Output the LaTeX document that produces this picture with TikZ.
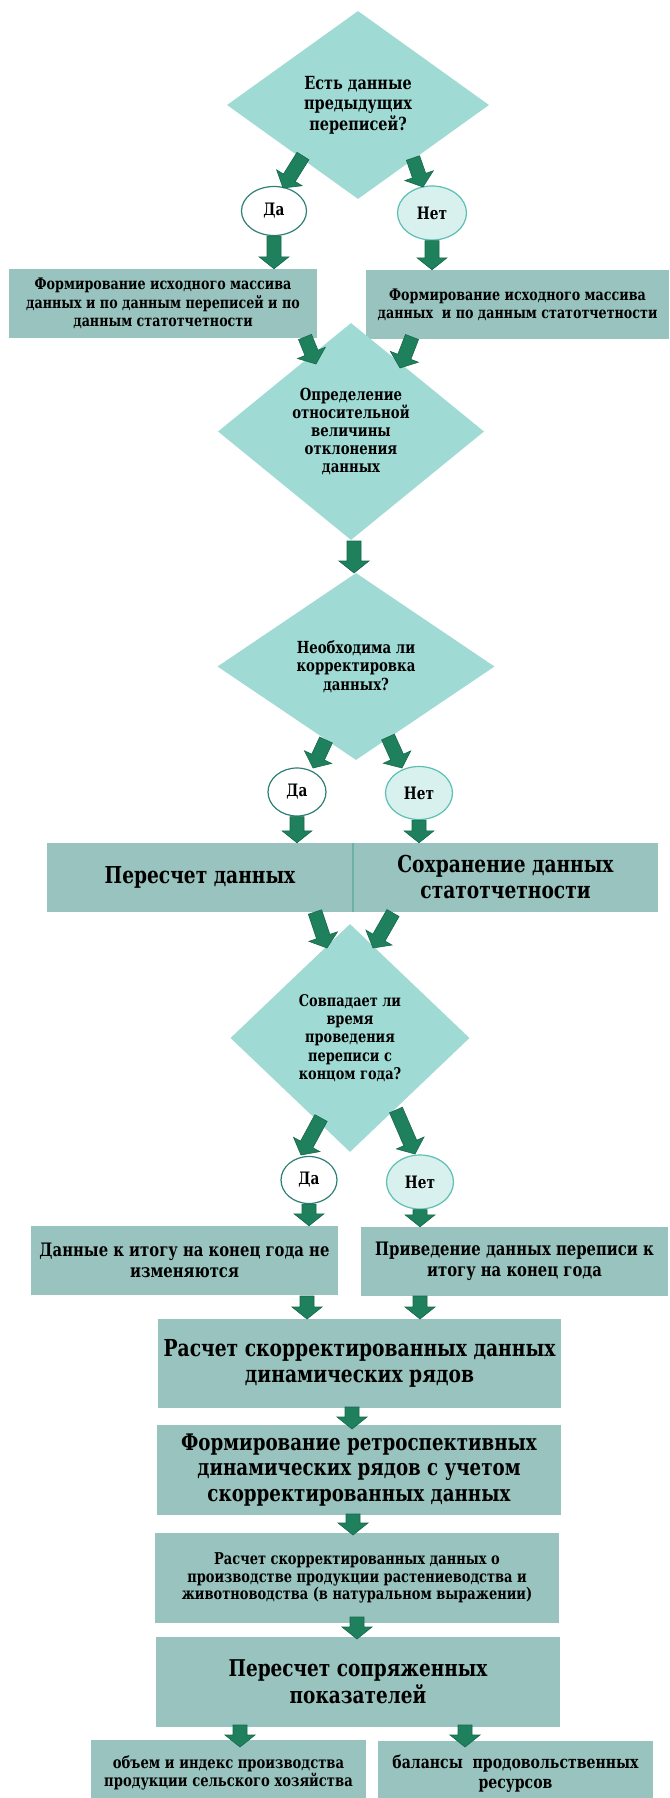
\documentclass[tikz,border=0pt]{standalone}
\usepackage{fontspec}
\setmainfont{DejaVu Serif}[FakeStretch=0.8]
\usetikzlibrary{shapes.geometric,calc}
\definecolor{dfill}{HTML}{A0DAD4}
\definecolor{bfill}{HTML}{98C3BE}
\definecolor{afill}{HTML}{1E805C}
\definecolor{aline}{HTML}{17694B}
\definecolor{yline}{HTML}{2E7F76}
\definecolor{nline}{HTML}{5BBFB4}
\definecolor{nfill}{HTML}{D9F1EE}
\definecolor{divc}{HTML}{6FAFA8}
\newcommand\fsz[2]{\bfseries\fontsize{\fpeval{#1*0.95}}{#2}\selectfont}
\begin{document}
\begin{tikzpicture}[x=1pt,y=-1pt,
  dia/.style={diamond, fill=dfill, inner sep=0pt, align=center},
  box/.style={rectangle, fill=bfill, inner sep=0pt, align=center},
  yes/.style={ellipse, draw=yline, fill=white, line width=1.2pt, inner sep=0pt, font=\fsz{18}{18}},
  no/.style={ellipse, draw=nline, fill=nfill, line width=1.2pt, inner sep=0pt, font=\fsz{18}{18}},
  barrow/.style={fill=afill, draw=aline, line width=0.6pt, line join=miter,
    to path={($(\tikztostart)!7pt!90:(\tikztotarget)$)
      -- ($(\tikztotarget)!12pt!(\tikztostart)!7pt!90:(\tikztotarget)$)
      -- ($(\tikztotarget)!12pt!(\tikztostart)!15pt!90:(\tikztotarget)$)
      -- (\tikztotarget)
      -- ($(\tikztotarget)!12pt!(\tikztostart)!15pt!-90:(\tikztotarget)$)
      -- ($(\tikztotarget)!12pt!(\tikztostart)!7pt!-90:(\tikztotarget)$)
      -- ($(\tikztostart)!7pt!-90:(\tikztotarget)$) -- cycle}}]
\fill[white] (0,0) rectangle (669,1798);
\useasboundingbox (0,0) rectangle (669,1798);

% nodes
\node[dia, minimum width=262pt, minimum height=188pt, font=\fsz{19}{20.5}] (d1) at (358,105) {Есть данные\\предыдущих\\переписей?};
\node[yes, minimum width=65pt, minimum height=49pt] (y1) at (274,211) {Да};
\node[no, minimum width=69pt, minimum height=54pt] (n1) at (432,213) {Нет};
\node[box, minimum width=308pt, minimum height=69pt, font=\fsz{16.7}{18.3}] (b1l) at (163,303.5) {Формирование исходного массива\\данных и по данным переписей и по\\данным статотчетности};
\node[box, minimum width=303pt, minimum height=69pt, font=\fsz{16.7}{18.3}] (b1r) at (517.5,304.5) {Формирование исходного массива\\данных\ \ и по данным статотчетности};
\node[dia, minimum width=266pt, minimum height=217pt, font=\fsz{17.5}{18}] (d2) at (351,431.5) {Определение\\относительной\\величины\\отклонения\\данных};
\node[dia, minimum width=277pt, minimum height=187pt, font=\fsz{17.5}{18.5}] (d3) at (356,666.5) {Необходима ли\\корректировка\\данных?};
\node[yes, minimum width=58pt, minimum height=48pt] (y2) at (297,792) {Да};
\node[no, minimum width=67pt, minimum height=53pt] (n2) at (419,793) {Нет};
\node[box, minimum width=306pt, minimum height=69pt, font=\fsz{24.5}{26}] (b2l) at (200,877.5) {Пересчет данных};
\node[box, minimum width=305pt, minimum height=69pt, font=\fsz{24.5}{26}] (b2r) at (505.5,877.5) {Сохранение данных\\статотчетности};
\draw[divc, line width=2pt] (b2l.north east) -- (b2l.south east);
\node[dia, minimum width=239pt, minimum height=228pt, font=\fsz{17}{18.3}] (d4) at (350,1038) {Совпадает ли\\время\\проведения\\переписи с\\концом года?};
\node[yes, minimum width=56pt, minimum height=47pt] (y3) at (309,1180) {Да};
\node[no, minimum width=67pt, minimum height=54pt] (n3) at (420,1182) {Нет};
\node[box, minimum width=307pt, minimum height=69pt, font=\fsz{19.5}{21}] (b3l) at (184.5,1260.5) {Данные к итогу на конец года не\\изменяются};
\node[box, minimum width=307pt, minimum height=69pt, font=\fsz{19.5}{21}] (b3r) at (514.5,1261.5) {Приведение данных переписи к\\итогу на конец года};
\node[box, minimum width=403pt, minimum height=89pt, font=\fsz{24.6}{26.7}] (b4) at (359.5,1363.5) {Расчет скорректированных данных\\динамических рядов};
\node[box, minimum width=404pt, minimum height=90pt, font=\fsz{24}{25.8}] (b5) at (359,1470) {Формирование ретроспективных\\динамических рядов с учетом\\скорректированных данных};
\node[box, minimum width=404pt, minimum height=90pt, font=\fsz{17.1}{17.8}] (b6) at (357,1578) {Расчет скорректированных данных о\\производстве продукции растениеводства и\\животноводства (в натуральном выражении)};
\node[box, minimum width=404pt, minimum height=90pt, font=\fsz{24.3}{26.7}] (b7) at (358,1682) {Пересчет сопряженных\\показателей};
\node[box, minimum width=275pt, minimum height=66pt, font=\fsz{17.3}{18.3}] (b8l) at (228.5,1773) {объем и индекс производства\\продукции сельского хозяйства};
\node[box, minimum width=275pt, minimum height=66pt, font=\fsz{18.5}{20}] (b8r) at (515.5,1774) {балансы\ \ продовольственных\\ресурсов};

% arrow end points
\coordinate (a1s) at (303,156);  \coordinate (a1e) at (283,188);
\coordinate (a2s) at (413,158);  \coordinate (a2e) at (423,187);
\coordinate (a3e) at (y1.south |- b1l.north);
\coordinate (a4e) at (n1.south |- b1r.north);
\coordinate (a5s) at (305,337);  \coordinate (a5e) at (316,364);
\coordinate (a6s) at (412,337);  \coordinate (a6e) at (400,368);
\coordinate (a7s) at (354,541);  \coordinate (a7e) at (354,573);
\coordinate (a8s) at (326,740);  \coordinate (a8e) at (313,768);
\coordinate (a9s) at (388,737);  \coordinate (a9e) at (402,768);
\coordinate (a10e) at (y2.south |- b2l.north);
\coordinate (a11e) at (n2.south |- b2r.north);
\coordinate (a12s) at (315,912); \coordinate (a12e) at (327,948);
\coordinate (a13s) at (393,913); \coordinate (a13e) at (373,948);
\coordinate (a14s) at (321,1118); \coordinate (a14e) at (301,1155);
\coordinate (a15s) at (396,1110); \coordinate (a15e) at (415,1154);
\coordinate (a16e) at (y3.south |- b3l.north);
\coordinate (a17e) at (n3.south |- b3r.north);
\coordinate (a18s) at (307,1296); \coordinate (a18e) at (307,1319);
\coordinate (a19s) at (420,1296); \coordinate (a19e) at (420,1319);
\coordinate (a20s) at (352,1407); \coordinate (a20e) at (352,1429);
\coordinate (a21s) at (353,1514); \coordinate (a21e) at (353,1535);
\coordinate (a22s) at (357,1617); \coordinate (a22e) at (357,1639);
\coordinate (a23s) at (240,1725); \coordinate (a23e) at (240,1747);
\coordinate (a24s) at (465,1725); \coordinate (a24e) at (465,1747);

% arrows
\draw[barrow] (a1s) to (a1e);
\draw[barrow] (a2s) to (a2e);
\draw[barrow] (y1.south) to (a3e);
\draw[barrow] (n1.south) to (a4e);
\draw[barrow] (a5s) to (a5e);
\draw[barrow] (a6s) to (a6e);
\draw[barrow] (a7s) to (a7e);
\draw[barrow] (a8s) to (a8e);
\draw[barrow] (a9s) to (a9e);
\draw[barrow] (y2.south) to (a10e);
\draw[barrow] (n2.south) to (a11e);
\draw[barrow] (a12s) to (a12e);
\draw[barrow] (a13s) to (a13e);
\draw[barrow] (a14s) to (a14e);
\draw[barrow] (a15s) to (a15e);
\draw[barrow] (y3.south) to (a16e);
\draw[barrow] (n3.south) to (a17e);
\draw[barrow] (a18s) to (a18e);
\draw[barrow] (a19s) to (a19e);
\draw[barrow] (a20s) to (a20e);
\draw[barrow] (a21s) to (a21e);
\draw[barrow] (a22s) to (a22e);
\draw[barrow] (a23s) to (a23e);
\draw[barrow] (a24s) to (a24e);
\end{tikzpicture}
\end{document}
